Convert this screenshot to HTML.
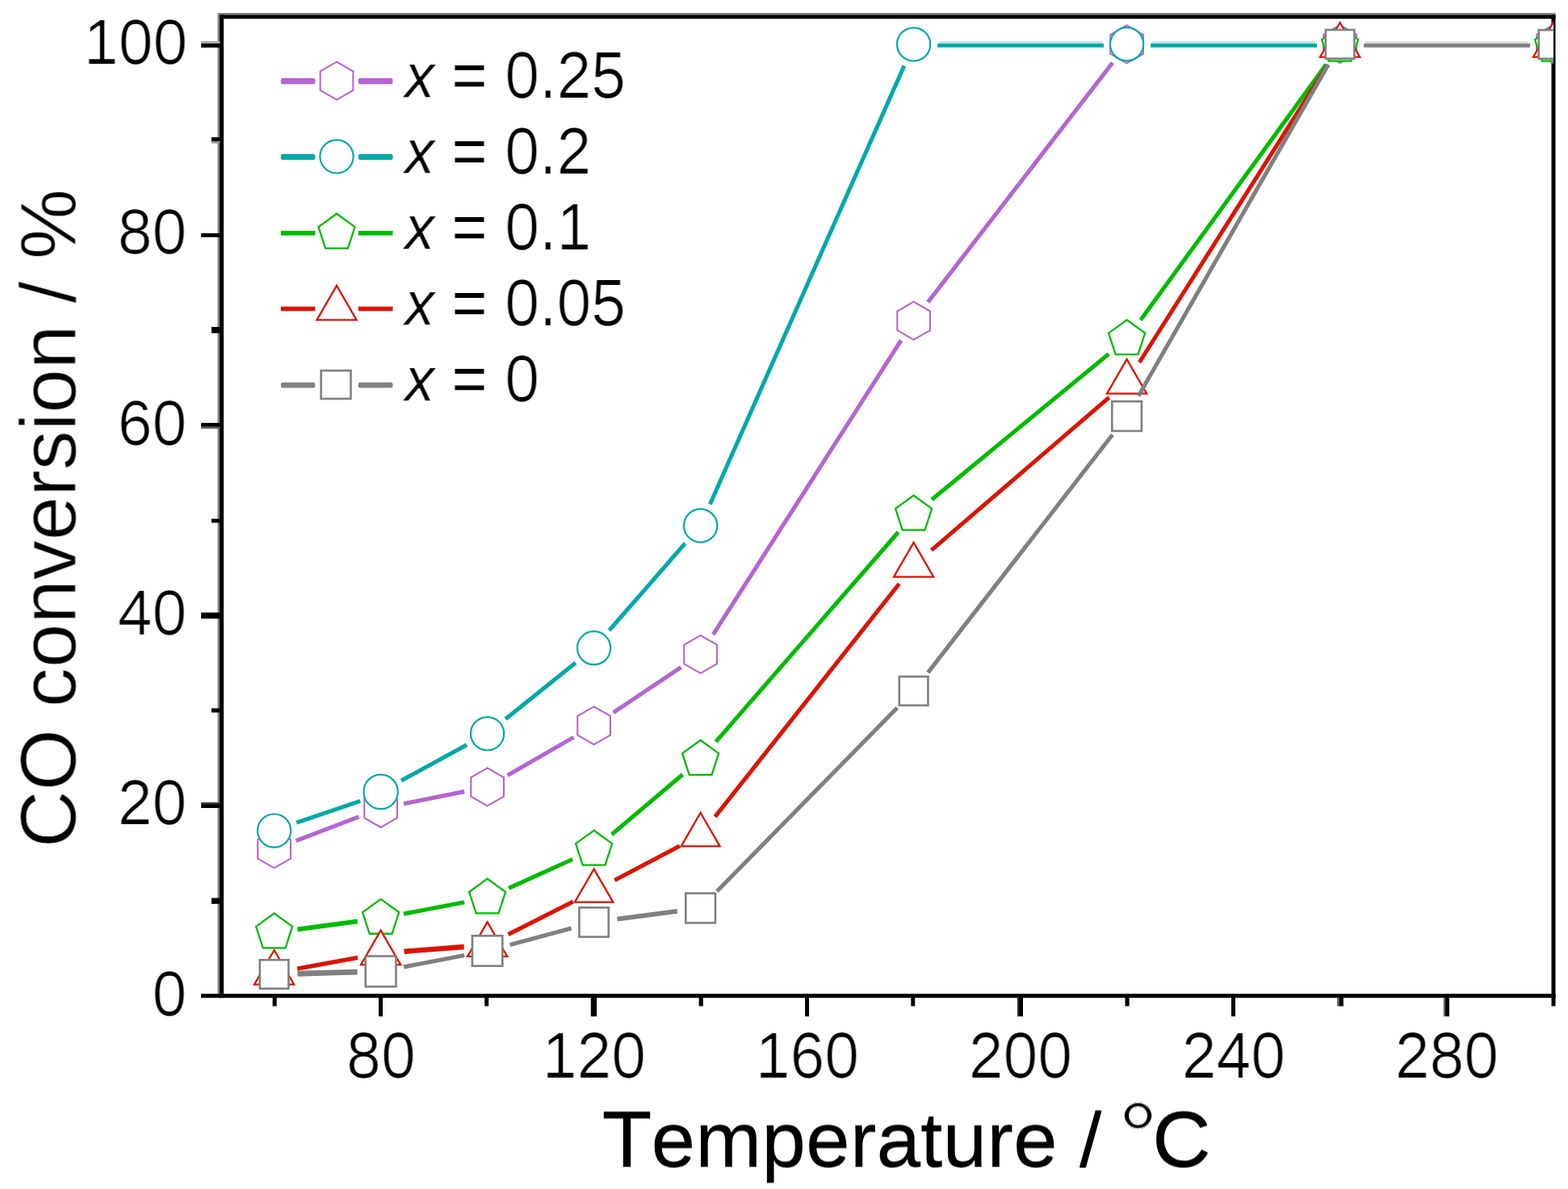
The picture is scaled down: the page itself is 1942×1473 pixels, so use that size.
<!DOCTYPE html>
<html lang="en">
<head>
<meta charset="utf-8">
<title>CO conversion vs temperature</title>
<style>
html,body{margin:0;padding:0;background:#fff;}
body{width:1942px;height:1473px;overflow:hidden;}
svg{display:block;}
text{font-family:"Liberation Sans",Arial,Helvetica,sans-serif;fill:#000;font-kerning:none;text-rendering:geometricPrecision;}
.tick{font-size:77px;}
.title{font-size:98.4px;}
.leg{font-size:77px;}
</style>
</head>
<body>
<svg width="1942" height="1473" viewBox="0 0 1942 1473">
<rect x="0" y="0" width="1942" height="1473" fill="#fff"/>
<defs>
<clipPath id="plot"><rect x="274.5" y="20.8" width="1649.4" height="1212.8"/></clipPath>
<filter id="hint" x="-5%" y="-25%" width="110%" height="150%" color-interpolation-filters="sRGB"><feMorphology in="SourceGraphic" operator="dilate" radius="0 1" result="m"/><feComposite in="m" in2="SourceGraphic" operator="arithmetic" k1="0" k2="0.6" k3="0.4" k4="0"/></filter>
<filter id="thin" x="-5%" y="-25%" width="110%" height="150%" color-interpolation-filters="sRGB"><feMorphology in="SourceGraphic" operator="erode" radius="1 0" result="m"/><feComposite in="m" in2="SourceGraphic" operator="arithmetic" k1="0" k2="0.7" k3="0.3" k4="0"/></filter>
</defs>
<g id="frame">
<rect x="269.5" y="16" width="2.6" height="1215.2" fill="#808080"/>
<rect x="272" y="16" width="1654.5" height="2.5" fill="#808080"/>
<rect x="272" y="18.4" width="5" height="1217.8" fill="#000"/>
<rect x="272" y="18.4" width="1654.5" height="4.9" fill="#000"/>
<rect x="1921.5" y="18.4" width="5" height="1217.8" fill="#000"/>
<rect x="249" y="1231.2" width="1677.5" height="5" fill="#000"/>
</g>
<g id="ticks" fill="#000">
<rect x="249.1" y="51" width="23.4" height="2.9" fill="#aaaaaa"/>
<rect x="249.1" y="53.9" width="23.9" height="5"/>
<rect x="261.9" y="174.9" width="10.6" height="2.7" fill="#909090"/>
<rect x="261.9" y="170.1" width="11.1" height="4.8"/>
<rect x="249.1" y="289" width="23.9" height="4.8"/>
<rect x="261.9" y="405" width="11.1" height="7.7"/>
<rect x="249.1" y="528.7" width="23.4" height="2.5" fill="#606060"/>
<rect x="249.1" y="523.9" width="23.9" height="4.8"/>
<rect x="261.9" y="642.7" width="11.1" height="4.9"/>
<rect x="249.1" y="758.8" width="23.9" height="7.6"/>
<rect x="261.9" y="877.5" width="11.1" height="5.1"/>
<rect x="249.1" y="993.9" width="23.4" height="2.2" fill="#404040"/>
<rect x="249.1" y="996.1" width="23.9" height="4.9"/>
<rect x="261.9" y="1112.5" width="11.1" height="7.3"/>
<rect x="337.6" y="1235.5" width="5.1" height="11"/>
<rect x="469" y="1235.5" width="5" height="23.7"/>
<rect x="600.2" y="1235.5" width="5" height="11"/>
<rect x="731.8" y="1235.5" width="7.25" height="23.7"/>
<rect x="865.6" y="1235.5" width="5.2" height="11"/>
<rect x="997" y="1235.5" width="5" height="23.7"/>
<rect x="1128.3" y="1235.5" width="4.9" height="11"/>
<rect x="1259.9" y="1235.8" width="2.1" height="23.4" fill="#333333"/>
<rect x="1262" y="1235.5" width="5" height="23.7"/>
<rect x="1393.5" y="1235.5" width="5.1" height="11"/>
<rect x="1525" y="1235.5" width="5" height="23.7"/>
<rect x="1656.2" y="1235.8" width="2.3" height="10.7" fill="#555555"/>
<rect x="1658.5" y="1235.5" width="5.3" height="11"/>
<rect x="1787.8" y="1235.8" width="2.2" height="23.4" fill="#666666"/>
<rect x="1790" y="1235.5" width="5" height="23.7"/>
<rect x="1921.5" y="1235.5" width="5" height="11"/>
</g>
<g id="ylabels" class="tick" text-anchor="end" filter="url(#thin)">
<text transform="translate(231.3 1257.7) scale(1 1.02)">0</text>
<text transform="translate(231.3 1021.13) scale(1 1.02)">20</text>
<text transform="translate(231.3 786.36) scale(1 1.02)">40</text>
<text transform="translate(231.3 550.89) scale(1 1.02)">60</text>
<text transform="translate(231.3 313.72) scale(1 1.02)">80</text>
<text transform="translate(232.3 78.65) scale(1 1.02)">100</text>
</g>
<g id="xlabels" class="tick" text-anchor="middle" filter="url(#thin)">
<text transform="translate(471.9 1334.8) scale(1 1.04)">80</text>
<text transform="translate(735.9 1334.8) scale(1 1.04)">120</text>
<text transform="translate(999.9 1334.8) scale(1 1.04)">160</text>
<text transform="translate(1263.9 1334.8) scale(1 1.04)">200</text>
<text transform="translate(1527.9 1334.8) scale(1 1.04)">240</text>
<text transform="translate(1791.9 1334.8) scale(1 1.04)">280</text>
</g>
<text id="xtitle" class="title" filter="url(#hint)" transform="translate(746.4 1444.8) scale(1 0.965)"><tspan font-size="101.5" dx="-0.9">T</tspan><tspan dx="-1">emperature / </tspan><tspan font-size="124" dx="-6.9" dy="4.8" stroke="#fff" stroke-width="1.1">°</tspan><tspan font-size="100.5" dy="-4.8" dx="-7.3">C</tspan></text>
<text id="ytitle" class="title" style="font-size:97.9px" stroke="#fff" stroke-width="0.9" transform="translate(93.6 642.2) rotate(-90)" text-anchor="middle">CO conversion / %</text>
<g id="data" clip-path="url(#plot)">
<g id="s-purple">
<line x1="366.69" y1="1041.56" x2="444.51" y2="1011.84" stroke="#b565d1" stroke-width="5.1"/>
<line x1="500.03" y1="995.77" x2="575.17" y2="980.63" stroke="#b565d1" stroke-width="5.2"/>
<line x1="628.73" y1="960.43" x2="710.47" y2="913.37" stroke="#b565d1" stroke-width="5.1"/>
<line x1="759.7" y1="882.78" x2="843.5" y2="826.72" stroke="#b565d1" stroke-width="5.1"/>
<line x1="883.21" y1="786.16" x2="1115.99" y2="421.74" stroke="#b565d1" stroke-width="5.1"/>
<line x1="1149.3" y1="374.33" x2="1377.9" y2="77.77" stroke="#b565d1" stroke-width="5.1"/>
<polygon points="339.6,1028.4 359.95,1040.15 359.95,1063.65 339.6,1075.4 319.25,1063.65 319.25,1040.15" fill="#fff" stroke="#b565d1" stroke-width="2.1"/>
<polygon points="471.6,978 491.95,989.75 491.95,1013.25 471.6,1025 451.25,1013.25 451.25,989.75" fill="#fff" stroke="#b565d1" stroke-width="2.1"/>
<polygon points="603.6,951.4 623.95,963.15 623.95,986.65 603.6,998.4 583.25,986.65 583.25,963.15" fill="#fff" stroke="#b565d1" stroke-width="2.1"/>
<polygon points="735.6,875.4 755.95,887.15 755.95,910.65 735.6,922.4 715.25,910.65 715.25,887.15" fill="#fff" stroke="#b565d1" stroke-width="2.1"/>
<polygon points="867.6,787.1 887.95,798.85 887.95,822.35 867.6,834.1 847.25,822.35 847.25,798.85" fill="#fff" stroke="#b565d1" stroke-width="2.1"/>
<polygon points="1131.6,373.8 1151.95,385.55 1151.95,409.05 1131.6,420.8 1111.25,409.05 1111.25,385.55" fill="#fff" stroke="#b565d1" stroke-width="2.1"/>
<polygon points="1395.6,31.3 1415.95,43.05 1415.95,66.55 1395.6,78.3 1375.25,66.55 1375.25,43.05" fill="#fff" stroke="#b565d1" stroke-width="2.1"/>
<polygon points="1659.6,31.1 1679.95,42.85 1679.95,66.35 1659.6,78.1 1639.25,66.35 1639.25,42.85" fill="#fff" stroke="#b565d1" stroke-width="2.1"/>
<polygon points="1923.6,31.1 1943.95,42.85 1943.95,66.35 1923.6,78.1 1903.25,66.35 1903.25,42.85" fill="#fff" stroke="#b565d1" stroke-width="2.1"/>
</g>
<g id="s-cyan">
<line x1="367.3" y1="1019.2" x2="446.2" y2="992.3" stroke="#00a9a9" stroke-width="5.1"/>
<line x1="497.06" y1="967.01" x2="578.14" y2="922.79" stroke="#00a9a9" stroke-width="5.1"/>
<line x1="626.2" y1="890.73" x2="713" y2="820.97" stroke="#00a9a9" stroke-width="5.1"/>
<line x1="754.64" y1="780.93" x2="848.56" y2="673.07" stroke="#00a9a9" stroke-width="5.1"/>
<line x1="879.34" y1="624.68" x2="1119.86" y2="81.42" stroke="#00a9a9" stroke-width="5.1"/>
<rect x="1163.1" y="51.2" width="201.9" height="3" fill="#b3e5e5"/>
<rect x="1161.1" y="54" width="205.9" height="4.75" fill="#00a9a9"/>
<rect x="1427.1" y="51.2" width="201.9" height="3" fill="#b3e5e5"/>
<rect x="1425.1" y="54" width="205.9" height="4.75" fill="#00a9a9"/>
<circle cx="339.6" cy="1029.1" r="20.6" fill="#fff" stroke="#00a9a9" stroke-width="2.2"/>
<circle cx="471.6" cy="980.9" r="21.22" fill="#fff" stroke="#00a9a9" stroke-width="2.2"/>
<circle cx="603.6" cy="908.9" r="20.6" fill="#fff" stroke="#00a9a9" stroke-width="2.2"/>
<circle cx="735.6" cy="802.8" r="20.6" fill="#fff" stroke="#00a9a9" stroke-width="2.2"/>
<circle cx="867.6" cy="651.2" r="20.6" fill="#fff" stroke="#00a9a9" stroke-width="2.2"/>
<circle cx="1131.6" cy="54.9" r="20.6" fill="#fff" stroke="#00a9a9" stroke-width="2.2"/>
<circle cx="1395.6" cy="54.8" r="20.6" fill="#fff" stroke="#00a9a9" stroke-width="2.2"/>
<circle cx="1659.6" cy="55" r="20.6" fill="#fff" stroke="#00a9a9" stroke-width="2.2"/>
<circle cx="1923.6" cy="55" r="20.6" fill="#fff" stroke="#00a9a9" stroke-width="2.2"/>
</g>
<g id="s-green">
<line x1="368.35" y1="1151.37" x2="442.85" y2="1141.43" stroke="#00bc00" stroke-width="5.83"/>
<line x1="500.08" y1="1132.14" x2="575.12" y2="1117.76" stroke="#00bc00" stroke-width="5.29"/>
<line x1="630.02" y1="1100.33" x2="709.18" y2="1064.47" stroke="#00bc00" stroke-width="5.1"/>
<line x1="757.73" y1="1033.76" x2="845.47" y2="959.44" stroke="#00bc00" stroke-width="5.1"/>
<line x1="886.64" y1="918.83" x2="1112.56" y2="659.27" stroke="#00bc00" stroke-width="5.1"/>
<line x1="1153.99" y1="618.97" x2="1373.21" y2="438.43" stroke="#00bc00" stroke-width="5.1"/>
<line x1="1412.64" y1="396.53" x2="1642.56" y2="79.87" stroke="#00bc00" stroke-width="5.1"/>
<polygon points="339.6,1131.5 362.14,1147.88 353.53,1174.37 325.67,1174.37 317.06,1147.88" fill="#fff" stroke="#00bc00" stroke-width="2.3"/>
<polygon points="471.6,1113.9 494.14,1130.28 485.53,1156.77 457.67,1156.77 449.06,1130.28" fill="#fff" stroke="#00bc00" stroke-width="2.3"/>
<polygon points="603.6,1088.6 626.14,1104.98 617.53,1131.47 589.67,1131.47 581.06,1104.98" fill="#fff" stroke="#00bc00" stroke-width="2.3"/>
<polygon points="735.6,1028.8 758.14,1045.18 749.53,1071.67 721.67,1071.67 713.06,1045.18" fill="#fff" stroke="#00bc00" stroke-width="2.3"/>
<polygon points="867.6,917 890.14,933.38 881.53,959.87 853.67,959.87 845.06,933.38" fill="#fff" stroke="#00bc00" stroke-width="2.3"/>
<polygon points="1131.6,613.7 1154.14,630.08 1145.53,656.57 1117.67,656.57 1109.06,630.08" fill="#fff" stroke="#00bc00" stroke-width="2.3"/>
<polygon points="1395.6,396.3 1418.14,412.68 1409.53,439.17 1381.67,439.17 1373.06,412.68" fill="#fff" stroke="#00bc00" stroke-width="2.3"/>
<polygon points="1659.6,32.7 1682.14,49.08 1673.53,75.57 1645.67,75.57 1637.06,49.08" fill="#fff" stroke="#00bc00" stroke-width="2.3"/>
<polygon points="1923.6,32.7 1946.14,49.08 1937.53,75.57 1909.67,75.57 1901.06,49.08" fill="#fff" stroke="#00bc00" stroke-width="2.3"/>
</g>
<g id="s-red">
<line x1="368.12" y1="1200.13" x2="443.08" y2="1186.27" stroke="#dc1400" stroke-width="5.35"/>
<line x1="500.51" y1="1178.74" x2="574.69" y2="1172.96" stroke="#dc1400" stroke-width="6.36"/>
<line x1="629.48" y1="1157.62" x2="709.72" y2="1117.08" stroke="#dc1400" stroke-width="5.1"/>
<line x1="761.27" y1="1090.5" x2="841.93" y2="1048.1" stroke="#dc1400" stroke-width="5.1"/>
<line x1="885.58" y1="1011.85" x2="1113.62" y2="723.25" stroke="#dc1400" stroke-width="5.1"/>
<line x1="1153.59" y1="681.59" x2="1373.61" y2="492.41" stroke="#dc1400" stroke-width="5.1"/>
<line x1="1411.11" y1="449" x2="1644.09" y2="80.9" stroke="#dc1400" stroke-width="5.1"/>
<polygon points="339.6,1177 364.2,1219.6 315,1219.6" fill="#fff" stroke="#dc1400" stroke-width="2.3"/>
<polygon points="471.6,1152.6 496.2,1195.2 447,1195.2" fill="#fff" stroke="#dc1400" stroke-width="2.3"/>
<polygon points="603.6,1142.3 628.2,1184.9 579,1184.9" fill="#fff" stroke="#dc1400" stroke-width="2.3"/>
<polygon points="735.6,1076.59 759.33,1117.7 711.87,1117.7" fill="#fff" stroke="#dc1400" stroke-width="2.3"/>
<polygon points="867.6,1006.91 891.58,1048.44 843.62,1048.44" fill="#fff" stroke="#dc1400" stroke-width="2.3"/>
<polygon points="1131.6,672.1 1156.2,714.7 1107,714.7" fill="#fff" stroke="#dc1400" stroke-width="2.3"/>
<polygon points="1395.6,445.1 1420.2,487.7 1371,487.7" fill="#fff" stroke="#dc1400" stroke-width="2.3"/>
<polygon points="1659.6,28 1684.2,70.6 1635,70.6" fill="#fff" stroke="#dc1400" stroke-width="2.3"/>
<polygon points="1923.6,28 1948.2,70.6 1899,70.6" fill="#fff" stroke="#dc1400" stroke-width="2.3"/>
</g>
<g id="s-gray">
<line x1="368.59" y1="1206.21" x2="442.61" y2="1204.19" stroke="#808080" stroke-width="6.84"/>
<line x1="500.08" y1="1197.92" x2="575.12" y2="1183.48" stroke="#808080" stroke-width="5.28"/>
<line x1="631.6" y1="1170.47" x2="707.6" y2="1150.03" stroke="#808080" stroke-width="5.1"/>
<line x1="764.35" y1="1138.69" x2="838.85" y2="1128.81" stroke="#808080" stroke-width="5.84"/>
<line x1="887.91" y1="1104.3" x2="1111.29" y2="876.7" stroke="#808080" stroke-width="5.1"/>
<line x1="1149.37" y1="833.08" x2="1377.83" y2="538.52" stroke="#808080" stroke-width="5.1"/>
<line x1="1410.02" y1="490.44" x2="1645.18" y2="79.96" stroke="#808080" stroke-width="5.1"/>
<rect x="1691.1" y="51.2" width="201.9" height="3" fill="#d9d9d9"/>
<rect x="1689.1" y="54" width="205.9" height="4.75" fill="#808080"/>
<rect x="321.8" y="1189.2" width="35.6" height="35.6" fill="#fff" stroke="#808080" stroke-width="2.6"/>
<rect x="452.73" y="1184.53" width="37.74" height="37.74" fill="#fff" stroke="#808080" stroke-width="2.6"/>
<rect x="584.91" y="1159.31" width="37.38" height="37.38" fill="#fff" stroke="#808080" stroke-width="2.6"/>
<rect x="717.44" y="1124.34" width="36.31" height="36.31" fill="#fff" stroke="#808080" stroke-width="2.6"/>
<rect x="849.27" y="1106.67" width="36.67" height="36.67" fill="#fff" stroke="#808080" stroke-width="2.6"/>
<rect x="1113.8" y="838.2" width="35.6" height="35.6" fill="#fff" stroke="#808080" stroke-width="2.6"/>
<rect x="1377.27" y="497.27" width="36.67" height="36.67" fill="#fff" stroke="#808080" stroke-width="2.6"/>
<rect x="1641.8" y="37" width="35.6" height="35.6" fill="#fff" stroke="#808080" stroke-width="2.6"/>
<rect x="1905.8" y="37.2" width="35.6" height="35.6" fill="#fff" stroke="#808080" stroke-width="2.6"/>
</g>
</g>
<g id="legend">
<rect x="347.8" y="96.85" width="42.6" height="7.3" rx="2.5" fill="#b565d1"/>
<rect x="443.7" y="96.85" width="42.8" height="7.3" rx="2.5" fill="#b565d1"/>
<polygon points="417,76.6 437.35,88.35 437.35,111.85 417,123.6 396.65,111.85 396.65,88.35" fill="#fff" stroke="#b565d1" stroke-width="2.1"/>
<rect x="347.8" y="190.65" width="42.6" height="7.3" rx="2.5" fill="#00a9a9"/>
<rect x="443.7" y="190.65" width="42.8" height="7.3" rx="2.5" fill="#00a9a9"/>
<circle cx="417" cy="193.9" r="20.6" fill="#fff" stroke="#00a9a9" stroke-width="2.2"/>
<rect x="347.8" y="285.95" width="42.6" height="5.7" rx="0" fill="#00bc00"/>
<rect x="443.7" y="285.95" width="42.8" height="5.7" rx="0" fill="#00bc00"/>
<polygon points="417,264.7 439.54,281.08 430.93,307.57 403.07,307.57 394.46,281.08" fill="#fff" stroke="#00bc00" stroke-width="2.3"/>
<rect x="347.8" y="379.85" width="42.6" height="5.5" rx="0" fill="#dc1400"/>
<rect x="443.7" y="379.85" width="42.8" height="5.5" rx="0" fill="#dc1400"/>
<polygon points="417,353.8 441.6,396.4 392.4,396.4" fill="#fff" stroke="#dc1400" stroke-width="2.3"/>
<rect x="347.8" y="473.75" width="42.6" height="6.7" rx="2.5" fill="#808080"/>
<rect x="443.7" y="473.75" width="42.8" height="6.7" rx="2.5" fill="#808080"/>
<rect x="397.6" y="459.1" width="36.9" height="34.9" fill="#fff" stroke="#808080" stroke-width="2.6"/>
<g id="legend-labels" filter="url(#thin)">
<text class="leg" transform="translate(501.9 120.8) scale(1 1.057)"><tspan font-style="italic" font-size="71" dy="-1" stroke="#000" stroke-width="0.7">x</tspan><tspan dx="0.1" dy="1"> = 0.25</tspan></text>
<text class="leg" transform="translate(501.9 214.6) scale(1 1.057)"><tspan font-style="italic" font-size="71" dy="-1" stroke="#000" stroke-width="0.7">x</tspan><tspan dx="0.1" dy="1"> = 0.2</tspan></text>
<text class="leg" transform="translate(501.9 309.1) scale(1 1.057)"><tspan font-style="italic" font-size="71" dy="-1" stroke="#000" stroke-width="0.7">x</tspan><tspan dx="0.1" dy="1"> = 0.1</tspan></text>
<text class="leg" transform="translate(501.9 402.9) scale(1 1.057)"><tspan font-style="italic" font-size="71" dy="-1" stroke="#000" stroke-width="0.7">x</tspan><tspan dx="0.1" dy="1"> = 0.05</tspan></text>
<text class="leg" transform="translate(501.9 497.4) scale(1 1.057)"><tspan font-style="italic" font-size="71" dy="-1" stroke="#000" stroke-width="0.7">x</tspan><tspan dx="0.1" dy="1"> = 0</tspan></text>
</g>
</g>
</svg>
</body>
</html>
